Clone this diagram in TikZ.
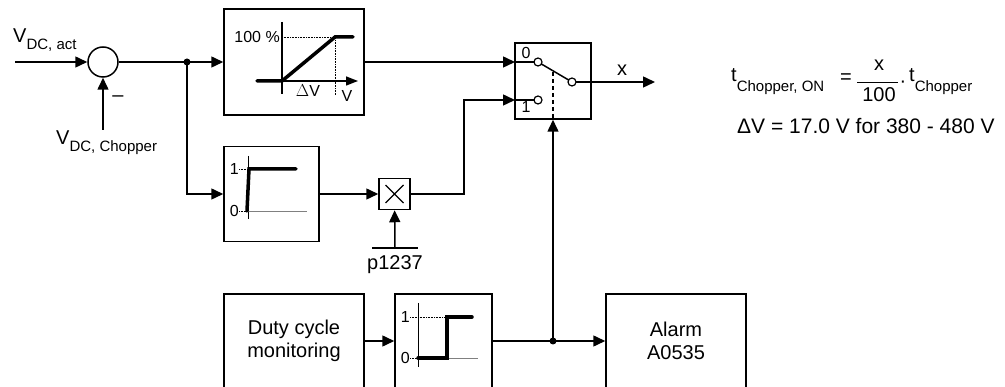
\documentclass[tikz,border=0pt]{standalone}
\usepackage{fontspec}
\setmainfont{Liberation Sans}
\usepackage{tikz}
\usetikzlibrary{arrows.meta, positioning}

\newcommand{\lab}{\fontsize{20}{23}\selectfont}
\newcommand{\smlab}{\fontsize{16}{18}\selectfont}
\newcommand{\lowsub}[2][7pt]{\raisebox{-#1}{\fontsize{15}{15}\selectfont #2}}

\begin{document}
\begin{tikzpicture}[
        x=1pt, y=-1pt,
        block/.style={rectangle, draw, line width=1.5pt, inner sep=0pt, align=center, font=\lab},
        sum/.style={circle, draw, line width=1.5pt, inner sep=0pt, minimum size=30pt},
        contact/.style={circle, draw, fill=white, line width=1.2pt, inner sep=0pt, minimum size=8pt},
        dot/.style={circle, fill, inner sep=0pt, minimum size=7pt},
        txt/.style={inner sep=0pt, font=\lab},
        tick/.style={inner sep=0pt, font=\smlab},
        wire/.style={draw, line width=1.5pt},
        line/.style={draw, line width=1.5pt, -{Triangle[length=12pt, width=11pt]}},
        curve/.style={line width=3.5pt, line cap=round},
        axis/.style={line width=0.9pt},
        guide/.style={densely dotted, line width=0.6pt}
    ]
        \useasboundingbox (0,0) rectangle (1005,387);
        \clip (0,0) rectangle (1005,387);

        % blocks
        \node [sum] (sum) at (103,62) {};
        \node [block, minimum width=140pt, minimum height=106pt] (ramp) at (294,62) {};
        \node [block, minimum width=76pt, minimum height=76pt] (sw) at (553,81) {};
        \node [block, minimum width=95pt, minimum height=95pt] (lim) at (271.5,194) {};
        \node [block, minimum width=31pt, minimum height=31pt] (mul) at (394.5,194) {};
        \node [block, minimum width=140pt, minimum height=94pt] (duty) at (294,341) {Duty cycle\\monitoring};
        \node [block, minimum width=97pt, minimum height=94pt] (step) at (443.5,341) {};
        \node [block, minimum width=140pt, minimum height=94pt] (alarm) at (676,341) {Alarm\\A0535};

        % points
        \coordinate (act) at (15,62);
        \coordinate (chop) at (103,130);
        \coordinate (jn) at (187,62);
        \coordinate (in0) at (515,62);
        \coordinate (in1) at (515,100);
        \coordinate (out) at (655,82);
        \coordinate (jb) at (553,341);
        \coordinate (par) at (395,248);
        \coordinate (lever) at (553,72);

        % labels
        \node [txt, anchor=base west] (vact) at (13,43) {V\lowsub{DC, act}};
        \node [txt, anchor=base west] (vchop) at (56,145) {V\lowsub{DC, Chopper}};
        \node [txt] (minus) at (118,99) {\textendash};
        \node [txt] (pname) at (395,265) {p1237};
        \node [txt] (xname) at (622,70) {x};

        % connectors
        \path [line] (act) -- (sum);
        \path [line] (chop) -- (sum);
        \path [wire] (sum) -- (jn);
        \path [line] (jn) -- (ramp);
        \path [line] (jn) |- (lim);
        \path [line] (ramp) -- (in0);
        \path [line] (lim) -- (mul);
        \path [line] (mul.east) -- ++(53,0) |- (in1);
        \path [line] (par) -- (mul);
        \path [wire] ([xshift=-23pt]par) -- ([xshift=23pt]par);
        \path [line] (duty) -- (step);
        \path [wire] (step) -- (jb);
        \path [line] (jb) -- (alarm);
        \path [line] (jb) -- (sw.south);
        \node [dot] at (jn) {};
        \node [dot] at (jb) {};

        % multiplier
        \draw [line width=1.2pt] (mul.center) +(-9,-9) -- +(9,9) +(-9,9) -- +(9,-9);

        % switch
        \path [wire] (in0) -- (538,62);
        \path [wire] (in1) -- (538,100);
        \path [wire] (538,62) -- (572,82);
        \path [line] (572,82) -- (out);
        \path [wire, dash pattern=on 4pt off 3pt] (lever) -- (sw.south);
        \node [contact] (k0) at (538,62) {};
        \node [contact] (k1) at (538,100) {};
        \node [contact] (piv) at (572,82) {};
        \node [tick] at (526,53) {0};
        \node [tick] at (526,107) {1};

        % ramp characteristic
        \draw [axis, line width=1.4pt] (282,22) -- (282,94);
        \draw [axis, line width=1.4pt, -{Triangle[length=12pt, width=9pt]}] (282,81) -- (358,81);
        \draw [guide] (282,37) -- (335,37) -- (335,95);
        \draw [curve] (257,81) -- (282,81) -- (335,37) -- (353,37);
        \node [tick, anchor=east] at (280,37) {100 \%};
        \node [tick] at (308,91) {$\Delta$V};
        \node [tick] at (347,96) {V};

        % limiter characteristic
        \draw [axis] (248,156) -- (248,219);
        \draw [axis, gray] (248,211) -- (307,211);
        \draw [guide] (239,169) -- (249,169);
        \draw [guide] (239,211) -- (248,211);
        \draw [curve] (247,211) -- (249,169) -- (296,169);
        \node [tick, anchor=east] at (239,169) {1};
        \node [tick, anchor=east] at (239,211) {0};

        % step characteristic
        \draw [axis] (418,303) -- (418,367);
        \draw [axis, gray] (418,358) -- (478,358);
        \draw [guide] (410,317) -- (447,317);
        \draw [guide] (410,358) -- (418,358);
        \draw [curve] (418,358) -- (447,358) -- (447,317) -- (472,317);
        \node [tick, anchor=east] at (410,317) {1};
        \node [tick, anchor=east] at (410,358) {0};

        % formula
        \node [txt, anchor=base west] (ton) at (731,82) {t\lowsub[10pt]{Chopper, ON}};
        \node [txt] (eq) at (846,79) {=};
        \node [txt] (num) at (879,65) {x};
        \node [txt] (den) at (879,95) {100};
        \draw [line width=1pt] (857,83) -- (898,83);
        \node [txt] (cdot) at (903,84) {·};
        \node [txt, anchor=base west] (tch) at (909,82) {t\lowsub[10pt]{Chopper}};
        \node [txt, anchor=base west, font=\fontsize{21}{24}\selectfont] (dv) at (737,134) {ΔV = 17.0 V for 380 - 480 V};
\end{tikzpicture}
\end{document}
